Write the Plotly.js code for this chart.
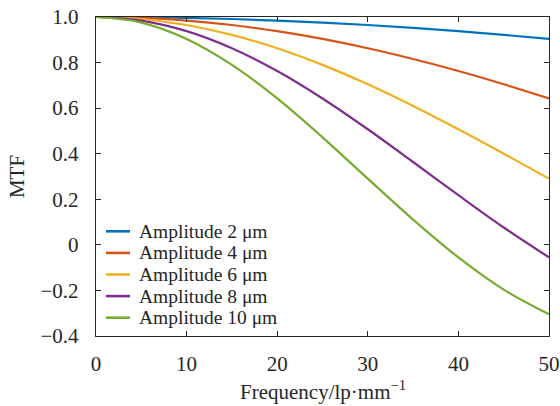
<!DOCTYPE html>
<html>
<head>
<meta charset="utf-8">
<script src="https://cdn.plot.ly/plotly-3.0.1.min.js"></script>
<style>html,body{margin:0;padding:0;background:#fff;}#chart{width:560px;height:406px;}</style>
</head>
<body>
<div id="chart"></div>
<script>
// ---- data ----
const frequency = [0, 5, 10, 15, 20, 25, 30, 35, 40, 45, 50];
const amp2  = [1, 0.9990, 0.9961, 0.9912, 0.9843, 0.9755, 0.9648, 0.9522, 0.9378, 0.9216, 0.9037];
const amp4  = [1, 0.9961, 0.9843, 0.9648, 0.9378, 0.9037, 0.8628, 0.8156, 0.7629, 0.7048, 0.6425];
const amp6  = [1, 0.9912, 0.9648, 0.9216, 0.8628, 0.7899, 0.7048, 0.6098, 0.5073, 0.4000, 0.2905];
const amp8  = [1, 0.9843, 0.9378, 0.8628, 0.7629, 0.6425, 0.5073, 0.3637, 0.2178, 0.0761, -0.0550];
const amp10 = [1, 0.9755, 0.9037, 0.7899, 0.6425, 0.4720, 0.2905, 0.1109, -0.0550, -0.1962, -0.3046];
const seriesNames = ["Amplitude 2 μm", "Amplitude 4 μm", "Amplitude 6 μm", "Amplitude 8 μm", "Amplitude 10 μm"];
const xTitle = "Frequency/lp·mm<sup>\u22121</sup>";
const yTitle = "MTF";
const xTickVals = [0, 10, 20, 30, 40, 50];
const xTickText = ["0", "10", "20", "30", "40", "50"];
const yTickVals = [1.0, 0.8, 0.6, 0.4, 0.2, 0, -0.2, -0.4];
const yTickText = ["1.0", "0.8", "0.6", "0.4", "0.2", "0", "\u22120.2", "\u22120.4"];

// ---- styling ----
const colors = ["#0072BD", "#D95319", "#EDB120", "#7E2F8E", "#77AC30"];
const FONT = "Liberation Serif, Times New Roman, serif";
const TXT = "#262626";
const W = 560, H = 406;
const M = {l: 96, r: 11, t: 17, b: 70};
const plotW = W - M.l - M.r, plotH = H - M.t - M.b;

const seriesValues = [amp2, amp4, amp6, amp8, amp10];
const traces = seriesValues.map((vals, i) => ({
  type: "scatter", mode: "lines",
  x: frequency, y: vals, name: seriesNames[i],
  line: {color: colors[i], width: 2.2, shape: "spline", smoothing: 1},
  showlegend: false, hoverinfo: "skip"
}));

const px2x = p => (p - M.l) / plotW;
const py2y = p => 1 - (p - M.t) / plotH;
const shapes = [], annotations = [];

// manual legend (compact row spacing like the reference)
const legX0 = 106, legX1 = 130, legTextX = 138, legY0 = 231.3, legStep = 21.6;
seriesNames.forEach((name, i) => {
  const yy = py2y(legY0 + i * legStep);
  shapes.push({type: "line", xref: "paper", yref: "paper",
    x0: px2x(legX0), x1: px2x(legX1), y0: yy, y1: yy,
    line: {color: colors[i], width: 2.6}});
  annotations.push({xref: "paper", yref: "paper", x: px2x(legTextX), y: yy,
    xanchor: "left", yanchor: "middle", showarrow: false, text: name,
    borderpad: 0,
    font: {family: FONT, size: 19.5, color: TXT}});
});

// x-axis title placed like the reference (slightly lower than Plotly's default)
annotations.push({xref: "paper", yref: "paper", x: 0.5, y: py2y(391),
  xanchor: "center", yanchor: "middle", showarrow: false, text: xTitle,
  borderpad: 0, font: {family: FONT, size: 21, color: TXT}});

const axisCommon = {
  showline: true, linecolor: TXT, linewidth: 1.3, mirror: "ticks",
  ticks: "inside", ticklen: 5, tickwidth: 1.1, tickcolor: TXT,
  showgrid: false, zeroline: false,
  tickfont: {family: FONT, size: 21, color: TXT}
};

const layout = {
  width: W, height: H,
  margin: M,
  paper_bgcolor: "#fff", plot_bgcolor: "#fff",
  font: {family: FONT, size: 21, color: TXT},
  xaxis: Object.assign({}, axisCommon, {
    range: [0, 50], tickmode: "array", tickvals: xTickVals, ticktext: xTickText,
    ticklabelstandoff: 8
  }),
  yaxis: Object.assign({}, axisCommon, {
    automargin: "left",
    range: [-0.4, 1.0], tickmode: "array", tickvals: yTickVals, ticktext: yTickText,
    ticklabelstandoff: 12,
    title: {text: yTitle, font: {family: FONT, size: 21, color: TXT}, standoff: 10}
  }),
  shapes: shapes, annotations: annotations,
  showlegend: false
};

Plotly.newPlot("chart", traces, layout, {displayModeBar: false, staticPlot: true});
</script>
</body>
</html>
